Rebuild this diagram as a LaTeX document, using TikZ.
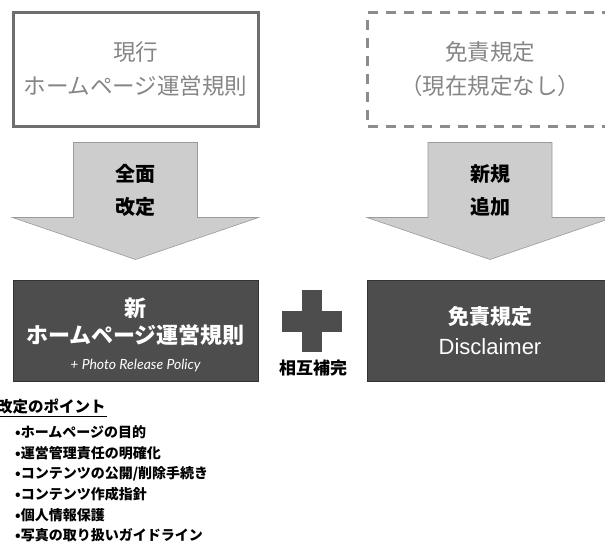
\documentclass[tikz,border=0pt]{standalone}
\usepackage{fontspec}
\newfontfamily\jpfont{Noto Sans CJK JP}
\newfontfamily\latinfont{Liberation Sans}
\newfontfamily\notefont{Lato}
\definecolor{framegray}{HTML}{6E6E6E}
\definecolor{dashgray}{HTML}{8C8C8C}
\definecolor{labelgray}{HTML}{858585}
\definecolor{arrowfill}{HTML}{CDCDCD}
\definecolor{arrowline}{HTML}{9A9A9A}
\definecolor{darkfill}{HTML}{4D4D4D}
\begin{document}
\begin{tikzpicture}[x=1pt,y=-1pt,
    topbox/.style={minimum width=245pt,minimum height=114pt,inner sep=0pt,
      align=center,text=labelgray,font=\jpfont\fontsize{22.5}{34}\selectfont},
    blockarrow/.style={fill=arrowfill,draw=arrowline,line width=0.6pt},
    arrowtext/.style={align=center,font=\jpfont\bfseries\fontsize{20}{33}\selectfont},
    newbox/.style={fill=darkfill,draw=black!80,line width=0.8pt,minimum width=245pt,
      minimum height=101pt,inner sep=0pt,align=center,text=white},
    pointtext/.style={anchor=west,inner sep=0pt,font=\jpfont\bfseries\fontsize{14}{14}\selectfont}]
  \useasboundingbox (0,0) rectangle (605,544);
  % current rules and the missing disclaimer
  \node[topbox,draw=framegray,line width=3pt] (old) at (135.5,69) {現行\\ホームページ運営規則};
  \node[topbox,draw=dashgray,line width=3pt,dash pattern=on 10pt off 8pt] (none) at (490,69)
    {免責規定\\（現在規定なし）};
  % block arrows
  \draw[blockarrow] (old.south) ++(-62,15) -- ++(124,0) -- ++(0,75) -- ++(61,0)
    -- ++(-123,42) -- ++(-123,-42) -- ++(61,0) -- cycle;
  \draw[blockarrow] (none.south) ++(-62,15) -- ++(124,0) -- ++(0,75) -- ++(61,0)
    -- ++(-123,42) -- ++(-123,-42) -- ++(61,0) -- cycle;
  \node[arrowtext] (full) at (135.5,190) {全面\\改定};
  \node[arrowtext] (add) at (490,190) {新規\\追加};
  % new rules
  \node[newbox,font=\jpfont\bfseries\fontsize{22}{27}\selectfont] (new) at (135.5,330.5)
    {\rule{0pt}{27pt}新\\ホームページ運営規則\\[-1pt]{\notefont\mdseries\itshape\fontsize{14}{14}\selectfont + Photo Release Policy}};
  \node[newbox,font=\jpfont\bfseries\fontsize{21}{30}\selectfont] (disc) at (490,330.5)
    {免責規定\\{\latinfont\mdseries\fontsize{22}{30}\selectfont Disclaimer}};
  \fill[darkfill] (282,310.5) rectangle (342,331.5);
  \fill[darkfill] (302,290) rectangle (322,352);
  \node[font=\jpfont\bfseries\fontsize{17}{17}\selectfont,inner sep=0pt] (mutual) at (313,368) {相互補完};
  % points of the revision
  \node[pointtext,font=\jpfont\bfseries\fontsize{15.5}{15.5}\selectfont] (title) at (-3,407) {改定のポイント};
  \draw[line width=0.8pt] (title.south west) ++(0,1.5) -- ++(110,0);
  \foreach \txt [count=\i from 0] in {ホームページの目的,運営管理責任の明確化,
      コンテンツの公開/削除手続き,コンテンツ作成指針,個人情報保護,写真の取り扱いガイドライン}
    \node[pointtext] (point\i) at (15,432+20.7*\i) {•\txt};
\end{tikzpicture}
\end{document}
